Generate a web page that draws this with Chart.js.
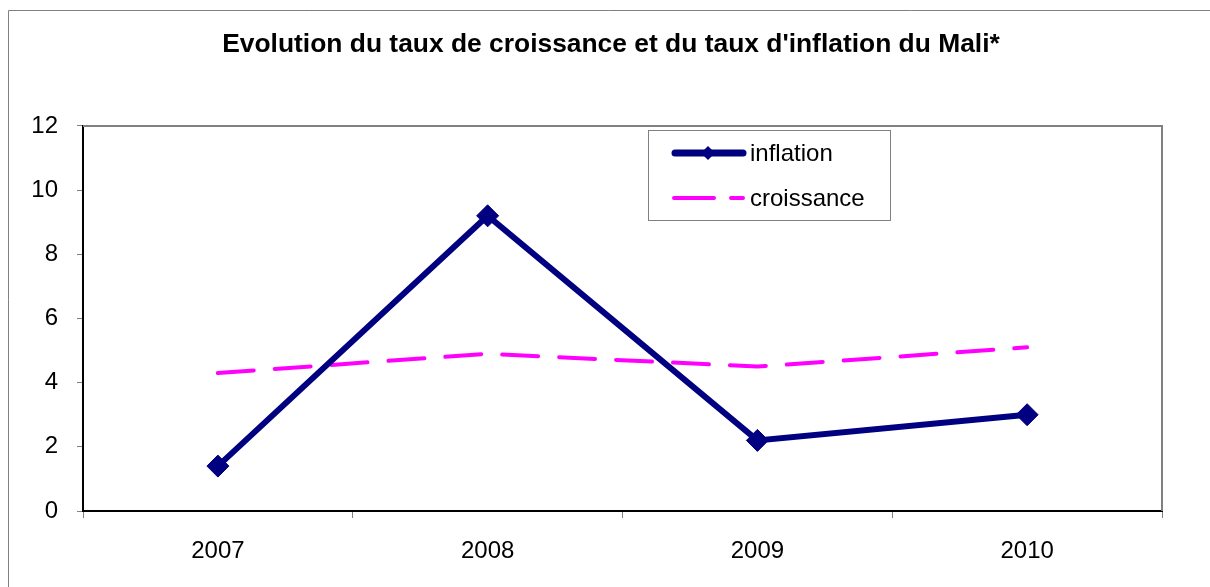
<!DOCTYPE html>
<html>
<head>
<meta charset="utf-8">
<script src="https://cdn.jsdelivr.net/npm/chart.js@4/dist/chart.umd.min.js"></script>
<style>
  html, body { margin: 0; padding: 0; background: #fff; }
  #wrap { width: 1210px; height: 587px; }
</style>
</head>
<body>
<div id="wrap"><canvas id="c" width="1210" height="587"></canvas></div>
<script>
const years = ['2007', '2008', '2009', '2010'];
const inflation = [1.4, 9.2, 2.2, 3.0];
const croissance = [4.3, 4.9, 4.5, 5.1];
const yTicks = [0, 2, 4, 6, 8, 10, 12];
const titleText = "Evolution du taux de croissance et du taux d'inflation du Mali*";
const seriesNames = ['inflation', 'croissance'];

const FONT = '"Liberation Sans", Arial, sans-serif';
const NAVY = '#000080';
const MAGENTA = '#FF00FF';

const framePlugin = {
  id: 'frame',
  beforeDraw(chart) {
    const ctx = chart.ctx;
    ctx.save();
    ctx.fillStyle = '#fff';
    ctx.fillRect(0, 0, chart.width, chart.height);
    ctx.strokeStyle = '#808080';
    ctx.lineWidth = 1;
    ctx.beginPath();
    ctx.moveTo(8.5, chart.height + 2);
    ctx.lineTo(8.5, 10.5);
    ctx.lineTo(chart.width + 2, 10.5);
    ctx.stroke();
    ctx.restore();
  },
  beforeDatasetsDraw(chart) {
    const { ctx, chartArea: a } = chart;
    ctx.save();
    ctx.strokeStyle = '#808080';
    ctx.lineWidth = 2;
    ctx.beginPath();
    ctx.moveTo(a.left, a.top);
    ctx.lineTo(a.right, a.top);
    ctx.lineTo(a.right, a.bottom);
    ctx.stroke();
    ctx.restore();
  }
};

const legendPlugin = {
  id: 'boxLegend',
  afterDatasetsDraw(chart) {
    const ctx = chart.ctx;
    const bx = 648.5, by = 130.5, bw = 242, bh = 90;
    ctx.save();
    ctx.fillStyle = '#fff';
    ctx.fillRect(bx, by, bw, bh);
    ctx.strokeStyle = '#808080';
    ctx.lineWidth = 1;
    ctx.strokeRect(bx, by, bw, bh);
    const rows = [153, 198];
    chart.data.datasets.forEach((ds, i) => {
      const y = rows[i];
      ctx.save();
      ctx.strokeStyle = ds.borderColor;
      ctx.lineWidth = i === 0 ? 7 : 4;
      ctx.lineCap = 'round';
      if (i === 1) ctx.setLineDash([40, 17]);
      ctx.beginPath();
      ctx.moveTo(i === 0 ? 675 : 674, y);
      ctx.lineTo(743, y);
      ctx.stroke();
      ctx.restore();
      if (i === 0) {
        ctx.fillStyle = ds.backgroundColor;
        ctx.beginPath();
        ctx.moveTo(708 - 7, y);
        ctx.lineTo(708, y - 7);
        ctx.lineTo(708 + 7, y);
        ctx.lineTo(708, y + 7);
        ctx.closePath();
        ctx.fill();
      }
      ctx.fillStyle = '#000';
      ctx.font = '24px ' + FONT;
      ctx.textAlign = 'left';
      ctx.textBaseline = 'middle';
      ctx.fillText(ds.label, 750, y + 1);
    });
    ctx.restore();
  }
};

new Chart(document.getElementById('c'), {
  type: 'line',
  data: {
    labels: years,
    datasets: [
      {
        label: seriesNames[0],
        data: inflation,
        borderColor: NAVY,
        backgroundColor: NAVY,
        borderWidth: 6,
        tension: 0,
        pointStyle: 'rectRot',
        pointRadius: 11,
        pointHoverRadius: 11,
        pointBackgroundColor: NAVY,
        pointBorderColor: NAVY,
        pointBorderWidth: 1,
        borderJoinStyle: 'miter',
        order: 1
      },
      {
        label: seriesNames[1],
        data: croissance,
        borderColor: MAGENTA,
        backgroundColor: MAGENTA,
        borderWidth: 4,
        borderDash: [36, 21],
        borderCapStyle: 'round',
        tension: 0,
        pointRadius: 0,
        pointHoverRadius: 0,
        order: 2
      }
    ]
  },
  options: {
    responsive: false,
    animation: false,
    events: [],
    layout: { padding: { left: 12, top: 0, right: 0, bottom: 0 } },
    plugins: {
      legend: { display: false },
      tooltip: { enabled: false },
      title: {
        display: true,
        text: titleText,
        color: '#000',
        font: { family: FONT, size: 26.4, weight: 'bold', lineHeight: 1.2 },
        padding: { top: 29, bottom: 65.3 }
      }
    },
    scales: {
      x: {
        type: 'category',
        offset: true,
        grid: {
          display: true,
          offset: true,
          drawOnChartArea: false,
          drawTicks: true,
          tickLength: 7,
          color: '#808080',
          lineWidth: 1
        },
        border: { display: true, color: '#000', width: 2 },
        ticks: {
          color: '#000',
          font: { family: FONT, size: 24 },
          padding: 19,
          maxRotation: 0,
          autoSkip: false
        },
        afterFit(scale) { scale.height = 76; }
      },
      y: {
        min: 0,
        max: 12,
        afterBuildTicks(scale) { scale.ticks = yTicks.map(v => ({ value: v })); },
        grid: {
          display: true,
          drawOnChartArea: false,
          drawTicks: true,
          tickLength: 6,
          color: '#808080',
          lineWidth: 1
        },
        border: { display: true, color: '#000', width: 2 },
        ticks: {
          color: '#000',
          font: { family: FONT, size: 24 },
          padding: 19
        },
        afterFit(scale) { scale.width = 71; }
      },
      yRight: {
        type: 'linear',
        position: 'right',
        min: 0,
        max: 1,
        display: true,
        grid: { display: false, drawTicks: false },
        border: { display: false },
        ticks: { display: false },
        afterFit(scale) { scale.width = 48; }
      }
    }
  },
  plugins: [framePlugin, legendPlugin]
});
</script>
</body>
</html>
